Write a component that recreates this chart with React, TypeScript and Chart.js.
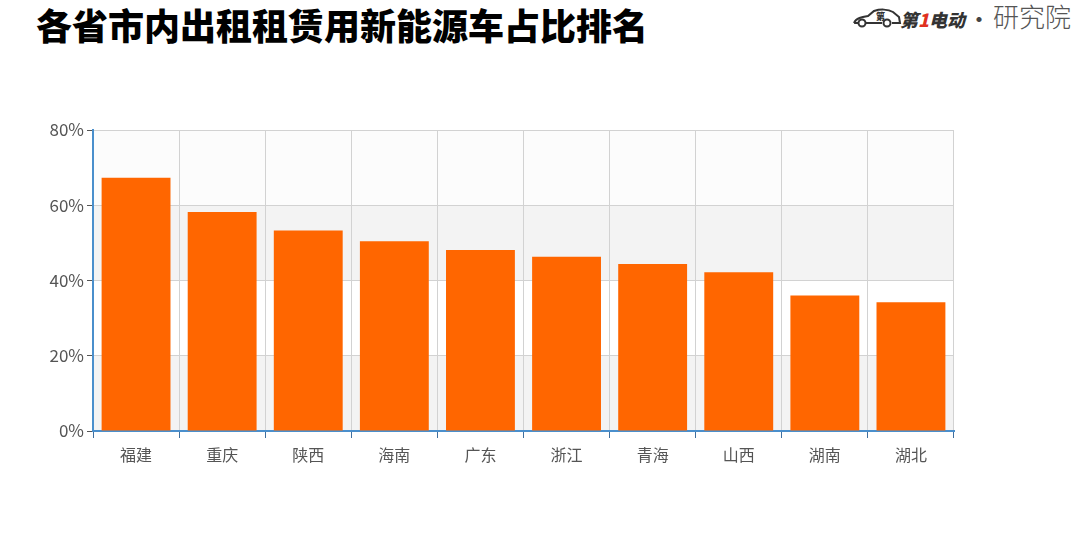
import React, { useEffect, useRef } from "react";
import { Chart, registerables } from "chart.js";

Chart.register(...registerables);

const categories = ["福建", "重庆", "陕西", "海南", "广东", "浙江", "青海", "山西", "湖南", "湖北"];
const shareValues = [67.3, 58.2, 53.3, 50.4, 48.1, 46.3, 44.4, 42.2, 36.0, 34.2];
const yTicks = [0, 20, 40, 60, 80];

const FONT = '"Noto Sans CJK SC", "Noto Sans", sans-serif';

const bandPlugin = {
  id: "bands",
  beforeDraw(chart: any) {
    const { ctx, chartArea, scales } = chart;
    const y = scales.y;
    const colors = ["#f3f3f3", "#ffffff", "#f3f3f3", "#fcfcfc"];
    ctx.save();
    for (let i = 0; i < yTicks.length - 1; i++) {
      const top = y.getPixelForValue(yTicks[i + 1]);
      const bot = y.getPixelForValue(yTicks[i]);
      ctx.fillStyle = colors[i];
      ctx.fillRect(chartArea.left, top, chartArea.right - chartArea.left, bot - top);
    }
    ctx.restore();
  },
};

export default function App() {
  const ref = useRef<HTMLCanvasElement>(null);
  useEffect(() => {
    const chart = new Chart(ref.current!, {
      type: "bar",
      data: {
        labels: categories,
        datasets: [
          {
            data: shareValues,
            backgroundColor: "#ff6600",
            barPercentage: 0.8,
            categoryPercentage: 1,
          },
        ],
      },
      options: {
        animation: false,
        responsive: false,
        layout: { padding: { left: 0, right: 126, top: 130, bottom: 77 } },
        plugins: { legend: { display: false }, tooltip: { enabled: false } },
        scales: {
          x: {
            grid: {
              color: "#d2d2d2",
              lineWidth: 1,
              tickLength: 7,
              tickColor: "#3f6f9f",
              offset: true,
            },
            border: { color: "#4a8fcc", width: 2 },
            ticks: { color: "#555", font: { family: FONT, size: 16 }, padding: 7 },
            afterFit: (s: any) => {
              s.height = 40;
            },
          },
          y: {
            min: 0,
            max: 80,
            grid: { color: "#d2d2d2", lineWidth: 1, tickLength: 6, tickColor: "#555" },
            border: { color: "#4a8fcc", width: 2 },
            ticks: {
              stepSize: 20,
              color: "#555",
              font: { family: FONT, size: 17 },
              padding: 3,
              callback: (v: any) => v + "%",
            },
            afterFit: (s: any) => {
              s.width = 93;
            },
          },
        },
      },
      plugins: [bandPlugin],
    });
    return () => chart.destroy();
  }, []);

  return (
    <div style={{ position: "fixed", left: 0, top: 0, width: 1080, height: 548, background: "#fff", overflow: "hidden" }}>
      <div
        style={{
          position: "absolute",
          left: 36,
          top: 0,
          fontFamily: FONT,
          fontWeight: 900,
          fontSize: 36,
          lineHeight: "48px",
          color: "#000",
          letterSpacing: 0,
          whiteSpace: "nowrap",
        }}
      >
        各省市内出租租赁用新能源车占比排名
      </div>
      <svg style={{ position: "absolute", left: 852, top: 6 }} width={50} height={24} viewBox="0 0 50 24">
        <path
          d="M2 17 C4 12 10 11 16 10 L22 5 C28 3 36 3 41 6 L47 11 L48 17 L40 17 M30 17 L14 17 M6 17 L2 17"
          fill="none"
          stroke="#333"
          strokeWidth={2}
        />
        <circle cx={10} cy={17} r={3.5} fill="none" stroke="#333" strokeWidth={2} />
        <circle cx={35} cy={17} r={3.5} fill="none" stroke="#333" strokeWidth={2} />
        <text x={24} y={14} fontSize={9} fontWeight={900} fill="#333" fontFamily={FONT}>
          第
        </text>
      </svg>
      <div
        style={{
          position: "absolute",
          left: 900,
          top: 0,
          fontFamily: FONT,
          fontSize: 26,
          lineHeight: "32px",
          color: "#444",
          whiteSpace: "nowrap",
        }}
      >
        <span style={{ fontStyle: "italic", fontWeight: 900, fontSize: 18, color: "#333" }}>
          第<span style={{ color: "#e03020" }}>1</span>电动
        </span>
        <span style={{ margin: "0 4px", fontWeight: 700, fontSize: 20 }}>•</span>
        <span style={{ fontWeight: 300, color: "#555" }}>研究院</span>
      </div>
      <canvas ref={ref} width={1080} height={548} style={{ position: "absolute", left: 0, top: 0 }} />
    </div>
  );
}
